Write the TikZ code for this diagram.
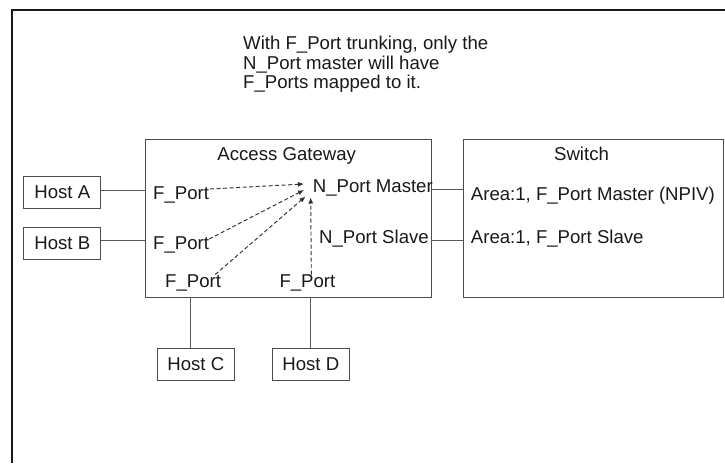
\documentclass[tikz,border=0pt]{standalone}
\usepackage{fontspec}
\setmainfont{Liberation Sans}
\usetikzlibrary{arrows.meta}
\begin{document}
\begin{tikzpicture}[x=1pt,y=-1pt,
  lbl/.style={inner sep=0pt,font=\fontsize{18.6}{20}\selectfont,text=black!90},
  hostbox/.style={draw=black!70,line width=0.9pt,minimum width=77pt,minimum height=32pt,inner sep=0pt,font=\fontsize{18.6}{20}\selectfont,text=black!90},
  bigbox/.style={draw=black!70,line width=0.9pt},
  wire/.style={draw=black!65,line width=1pt},
  maparrow/.style={draw=black!80,line width=0.95pt,dash pattern=on 4pt off 2.5pt,-{Latex[length=6pt,width=5pt]}}
]
\path[use as bounding box] (0,0) rectangle (725,463);
\fill[white] (0,0) rectangle (725,463);
% outer frame
\draw[line width=2.4pt,black!90] (11.7,463) -- (11.7,10) -- (725,10);

% title
\node[lbl,anchor=base west] (t1) at (243,49) {With F\_Port trunking, only the};
\node[lbl,anchor=base west] (t2) at (243,69) {N\_Port master will have};
\node[lbl,anchor=base west] (t3) at (243,88.5) {F\_Ports mapped to it.};

% main boxes
\node[bigbox,inner sep=0pt,minimum width=286pt,minimum height=158pt] (ag) at (288,218) {};
\node[bigbox,inner sep=0pt,minimum width=260pt,minimum height=158pt] (sw) at (593,218) {};
\node[lbl,anchor=base] (aglbl) at (286.7,160.7) {Access Gateway};
\node[lbl,anchor=base] (swlbl) at (581.5,160.7) {Switch};

% ports
\node[lbl,anchor=base west] (fp1) at (153,199) {F\_Port};
\node[lbl,anchor=base west] (fp2) at (153,249) {F\_Port};
\node[lbl,anchor=base west] (fp3) at (165,287.5) {F\_Port};
\node[lbl,anchor=base west] (fp4) at (279.3,287.5) {F\_Port};
\node[lbl,anchor=base west] (npm) at (312.7,192) {N\_Port Master};
\node[lbl,anchor=base west] (nps) at (319,243.2) {N\_Port Slave};
\node[lbl,anchor=base west] (sa1) at (470.7,200) {Area:1, F\_Port Master (NPIV)};
\node[lbl,anchor=base west] (sa2) at (470.7,243.3) {Area:1, F\_Port Slave};

% hosts
\node[hostbox] (hA) at (62.3,192.5) {Host A};
\node[hostbox] (hB) at (62.3,243) {Host B};
\node[hostbox] (hC) at (195.8,364.5) {Host C};
\node[hostbox] (hD) at (310.8,364.5) {Host D};

% host wires
\draw[wire] ([yshift=2.5pt]hA.east) -- ([yshift=2.5pt]hA.east -| ag.west);
\draw[wire] ([yshift=3pt]hB.east) -- ([yshift=3pt]hB.east -| ag.west);
\draw[wire] ([xshift=-5.8pt]hC.north) -- ([xshift=-5.8pt]hC.north |- ag.south);
\draw[wire] (hD.north) -- (hD.north |- ag.south);

% gateway to switch wires
\coordinate (w1) at (0,189.3);
\coordinate (w2) at (0,240);
\draw[wire] (w1 -| ag.east) -- (w1 -| sw.west);
\draw[wire] (w2 -| ag.east) -- (w2 -| sw.west);

% mapping arrows
\coordinate (tip1) at (304,184);
\coordinate (tip2) at (304,190);
\coordinate (tip3) at (305.5,196.5);
\coordinate (tip4) at (310.7,197.5);
\draw[maparrow] ([xshift=1pt,yshift=10pt]fp1.base east) -- (tip1);
\draw[maparrow] ([xshift=0pt,yshift=10pt]fp2.base east) -- (tip2);
\draw[maparrow] ([xshift=-6pt]fp3.north east) -- (tip3);
\draw[maparrow] ([xshift=3.9pt]fp4.north) -- (tip4);
\end{tikzpicture}
\end{document}
